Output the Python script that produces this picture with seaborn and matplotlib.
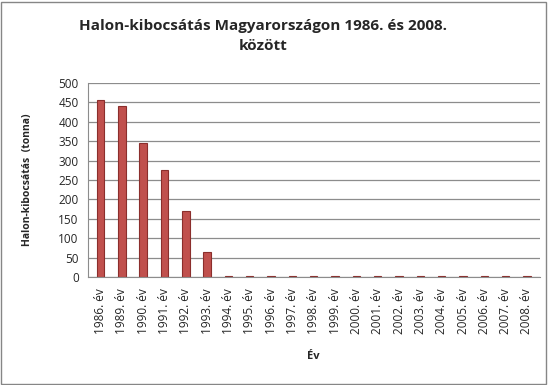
import pandas as pd
import seaborn as sns
import matplotlib.pyplot as plt
from matplotlib.patches import Rectangle

# adatok
years = ["1986. év", "1989. év", "1990. év", "1991. év", "1992. év", "1993. év",
         "1994. év", "1995. év", "1996. év", "1997. év", "1998. év", "1999. év",
         "2000. év", "2001. év", "2002. év", "2003. év", "2004. év", "2005. év",
         "2006. év", "2007. év", "2008. év"]
halon = [455, 441, 345, 275, 170, 65,
         2, 2, 2, 2, 2, 2, 2, 2, 2, 2, 2, 2, 2, 2, 2]

df = pd.DataFrame({"ev": years, "halon": halon})

sns.set_style("white")
plt.rcParams['font.family'] = ['Open Sans', 'DejaVu Sans']

fig = plt.figure(figsize=(5.48, 3.85), dpi=100)
ax = fig.add_axes([0.16, 0.28, 0.825, 0.505])

sns.barplot(data=df, x="ev", y="halon", color="#C0504D", saturation=1,
            width=0.35, edgecolor="#8B2E2C", linewidth=0.8, ax=ax)

ax.set_ylim(0, 500)
ax.set_yticks(range(0, 501, 50))
ax.set_xlim(-0.6, len(years) - 0.4)
ax.yaxis.grid(True, color="#8C8C8C", linewidth=0.9)
ax.set_axisbelow(True)
for s in ["top", "right"]:
    ax.spines[s].set_visible(False)
ax.spines["left"].set_color("#8C8C8C")
ax.spines["bottom"].set_color("#8C8C8C")

ax.tick_params(axis="x", labelrotation=90, labelsize=8.5, length=0, pad=8)
ax.tick_params(axis="y", labelsize=8.5, length=3, color="#8C8C8C")

ax.set_xlabel("Év", fontsize=8, fontweight="bold", labelpad=12)
ax.set_ylabel("Halon-kibocsátás  (tonna)", fontsize=7.5, fontweight="bold", labelpad=18)

fig.suptitle("Halon-kibocsátás Magyarországon 1986. és 2008.\nközött",
             fontsize=11, fontweight="bold", x=0.48, y=0.95, linespacing=1.5)

fig.patches.append(Rectangle((0.002, 0.002), 0.994, 0.994, transform=fig.transFigure,
                             fill=False, edgecolor="#868686", linewidth=1))

fig.savefig("out.png", dpi=100)
